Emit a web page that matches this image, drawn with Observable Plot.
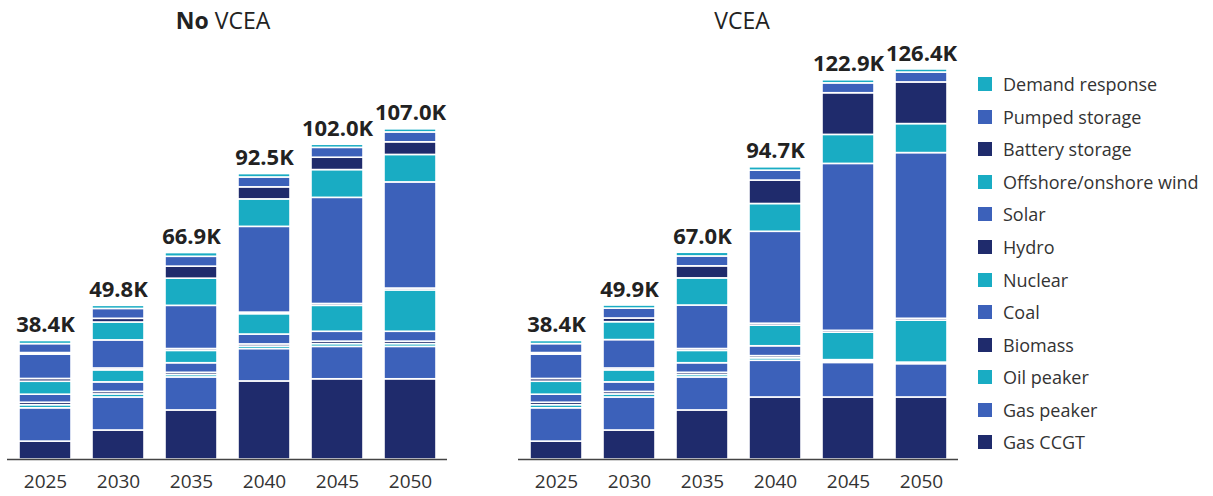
<!DOCTYPE html>
<html><head><meta charset="utf-8">
<script src="https://cdn.jsdelivr.net/npm/d3@7"></script>
<script src="https://cdn.jsdelivr.net/npm/@observablehq/plot@0.6"></script>
<style>
body{margin:0;background:#fff;font-family:"Open Sans",sans-serif;}
#wrap{position:relative;width:1213px;height:496px;overflow:hidden;background:#fff;}
.chart{position:absolute;top:0;}
.title{position:absolute;top:4px;font-size:23px;color:#222;text-align:center;width:300px;line-height:32px;}
#legend{position:absolute;left:978px;top:68px;}
.item{display:flex;align-items:center;height:32.55px;font-size:18px;color:#333;}
.sw{width:14px;height:14px;margin-right:11px;}
</style></head><body><div id="wrap"></div>
<script>
// Categories
const years = ["2025", "2030", "2035", "2040", "2045", "2050"];
// Technologies, bottom of stack to top
const techs = ["Gas CCGT", "Gas peaker", "Oil peaker", "Biomass", "Coal", "Nuclear", "Hydro", "Solar", "Offshore/onshore wind", "Battery storage", "Pumped storage", "Demand response"];
const techColors = ["#1f2b6c", "#3c61ba", "#19acc3", "#1f2b6c", "#3c61ba", "#19acc3", "#1f2b6c", "#3c61ba", "#19acc3", "#1f2b6c", "#3c61ba", "#19acc3"];

// No VCEA (thousand MW), one array per technology, by year
const noGasCCGT   = [5.8, 9.4, 15.9, 25.3, 26.0, 26.0];
const noGasPeaker = [10.8, 10.7, 10.7, 10.5, 10.5, 10.5];
const noOilPeaker = [1.0, 1.0, 0.8, 0.8, 0.9, 0.9];
const noBiomass   = [0.8, 0.8, 0.7, 0.7, 0.8, 0.8];
const noCoal      = [2.6, 3.1, 3.1, 3.2, 3.2, 3.2];
const noNuclear   = [4.2, 3.9, 4.0, 6.6, 8.4, 13.4];
const noHydro     = [0.9, 0.6, 0.6, 0.5, 0.6, 0.6];
const noSolar     = [7.9, 9.1, 14.0, 27.8, 34.4, 34.4];
const noWind      = [0.3, 5.8, 8.8, 8.9, 9.0, 8.9];
const noBattery   = [0.2, 1.2, 3.9, 3.9, 4.0, 4.1];
const noPumped    = [2.9, 3.2, 3.2, 3.2, 3.2, 3.2];
const noDemand    = [1.0, 1.0, 1.2, 1.1, 1.0, 1.0];
const noTotals    = [38.4, 49.8, 66.9, 92.5, 102.0, 107.0];

// VCEA
const vGasCCGT   = [5.8, 9.4, 15.9, 20.1, 20.1, 20.1];
const vGasPeaker = [10.8, 10.7, 10.7, 11.9, 11.2, 10.8];
const vOilPeaker = [1.0, 1.0, 0.8, 0.8, 0.5, 0.3];
const vBiomass   = [0.8, 0.8, 0.7, 0.7, 0.2, 0.1];
const vCoal      = [2.6, 3.1, 3.1, 3.2, 0.2, 0.1];
const vNuclear   = [4.2, 3.9, 4.0, 6.7, 8.9, 13.6];
const vHydro     = [0.9, 0.6, 0.6, 0.6, 0.6, 0.6];
const vSolar     = [7.9, 9.2, 14.1, 29.8, 54.1, 53.7];
const vWind      = [0.3, 5.8, 8.8, 9.0, 9.4, 9.4];
const vBattery   = [0.2, 1.2, 3.9, 7.6, 13.5, 13.5];
const vPumped    = [2.9, 3.2, 3.2, 3.2, 3.2, 3.2];
const vDemand    = [1.0, 1.0, 1.2, 1.1, 1.0, 1.0];
const vTotals    = [38.4, 49.9, 67.0, 94.7, 122.9, 126.4];

const noSeries = [noGasCCGT, noGasPeaker, noOilPeaker, noBiomass, noCoal, noNuclear, noHydro, noSolar, noWind, noBattery, noPumped, noDemand];
const vSeries = [vGasCCGT, vGasPeaker, vOilPeaker, vBiomass, vCoal, vNuclear, vHydro, vSolar, vWind, vBattery, vPumped, vDemand];

function toRows(series) {
  const rows = [];
  techs.forEach((t, i) => years.forEach((y, j) => rows.push({tech: t, year: y, value: series[i][j]})));
  return rows;
}
function chart(series, totals) {
  const tot = years.map((y, j) => ({year: y, total: totals[j]}));
  return Plot.plot({
    width: 460, height: 496,
    marginTop: 27, marginBottom: 37, marginLeft: 7, marginRight: 13,
    style: {fontFamily: "'Open Sans', sans-serif", fontSize: "19px", color: "#333", background: "transparent"},
    x: {domain: years, paddingInner: 0.29, paddingOuter: 0.145, label: null},
    y: {domain: [0, 140], axis: null},
    color: {domain: techs, range: techColors},
    marks: [
      Plot.barY(toRows(series), {x: "year", y: "value", fill: "tech", stroke: "white", strokeWidth: 1.6, order: null}),
      Plot.ruleY([0], {stroke: "#444", strokeWidth: 1.3}),
      Plot.axisX({tickSize: 0, tickPadding: 15, fontSize: 19, fill: "#333", label: null}),
      Plot.text(tot, {x: "year", y: "total", text: d => d.total.toFixed(1) + "K", dy: -16, fontWeight: "bold", fontSize: 22, fill: "#222"})
    ]
  });
}

const wrap = document.getElementById("wrap");
const c1 = chart(noSeries, noTotals); c1.classList.add("chart"); c1.style.left = "0px"; wrap.appendChild(c1);
const c2 = chart(vSeries, vTotals); c2.classList.add("chart"); c2.style.left = "511px"; wrap.appendChild(c2);

const t1 = document.createElement("div"); t1.className = "title"; t1.style.left = "73px"; t1.innerHTML = "<b>No</b> VCEA"; wrap.appendChild(t1);
const t2 = document.createElement("div"); t2.className = "title"; t2.style.left = "592px"; t2.textContent = "VCEA"; wrap.appendChild(t2);

const legend = document.createElement("div"); legend.id = "legend";
for (let i = techs.length - 1; i >= 0; i--) {
  const it = document.createElement("div"); it.className = "item";
  const sw = document.createElement("div"); sw.className = "sw"; sw.style.background = techColors[i];
  const lb = document.createElement("span"); lb.textContent = techs[i];
  it.appendChild(sw); it.appendChild(lb); legend.appendChild(it);
}
wrap.appendChild(legend);
</script></body></html>
